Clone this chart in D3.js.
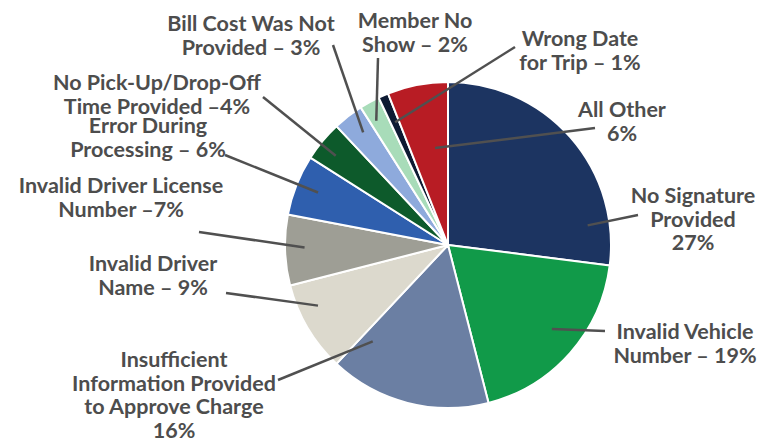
<!DOCTYPE html>
<html>
<head>
<meta charset="utf-8">
<script src="https://cdn.jsdelivr.net/npm/d3@7"></script>
<style>
  html, body { margin: 0; padding: 0; background: #fff; }
  svg { display: block; }
  .lbl { font-family: Lato, "Open Sans", sans-serif; font-weight: 700; font-size: 21.5px; fill: #4d4d4d; }
</style>
</head>
<body>
<div id="chart"></div>
<script>
// slices, clockwise from 12 o'clock
const categories = [
  "No Signature Provided",
  "Invalid Vehicle Number",
  "Insufficient Information Provided to Approve Charge",
  "Invalid Driver Name",
  "Invalid Driver License Number",
  "Error During Processing",
  "No Pick-Up/Drop-Off Time Provided",
  "Bill Cost Was Not Provided",
  "Member No Show",
  "Wrong Date for Trip",
  "All Other"
];
const values = [27, 19, 16, 9, 7, 6, 4, 3, 2, 1, 6];
const colors = [
  "#1c3461", "#119a49", "#6b7fa3", "#dcd9cd", "#9e9e95", "#2f5fae",
  "#0d5a2b", "#8eaadc", "#a8dcb9", "#0e1a33", "#b81c24"
];
// label text as it is broken in the picture
const labelLines = [
  ["No Signature", "Provided", "27%"],
  ["Invalid Vehicle", "Number – 19%"],
  ["Insufficient", "Information Provided", "to Approve Charge", "16%"],
  ["Invalid Driver", "Name – 9%"],
  ["Invalid Driver License", "Number –7%"],
  ["Error During", "Processing – 6%"],
  ["No Pick-Up/Drop-Off", "Time Provided –4%"],
  ["Bill Cost Was Not", "Provided – 3%"],
  ["Member No", "Show – 2%"],
  ["Wrong Date", "for Trip – 1%"],
  ["All Other", "6%"]
];

// layout: label centre x / first baseline, leader start, leader end (deg from top, fraction of r)
const labelLayout = [
  { x: 693, y: 203, sx: 638, sy: 215, a: 82, f: 0.865 },
  { x: 685, y: 339, sx: 605, sy: 331, a: 129, f: 0.82 },
  { x: 174, y: 367, sx: 278, sy: 380, a: 218, f: 0.75 },
  { x: 153, y: 271, sx: 226, sy: 293, a: 245, f: 0.88 },
  { x: 121, y: 193, sx: 199, sy: 232, a: 269, f: 0.88 },
  { x: 148, y: 133, sx: 225, sy: 155, a: 292, f: 0.86 },
  { x: 157, y: 90, sx: 263, sy: 97, a: 308.5, f: 0.88 },
  { x: 251, y: 31, sx: 333, sy: 45, a: 323, f: 0.865 },
  { x: 415, y: 28, sx: 378, sy: 58, a: 330, f: 0.88 },
  { x: 580, y: 46, sx: 515, sy: 47, a: 336.7, f: 0.82 },
  { x: 622, y: 117, sx: 595, sy: 128, a: 352.4, f: 0.6 }
];

const width = 775, height = 443;
const cx = 448, cy = 245, radius = 163;
const lineH = 23.7;

const svg = d3.select("#chart").append("svg")
  .attr("width", width)
  .attr("height", height)
  .attr("viewBox", `0 0 ${width} ${height}`);

const pie = d3.pie().sort(null).value(d => d)(values);
const arc = d3.arc().innerRadius(0).outerRadius(radius);

const g = svg.append("g").attr("transform", `translate(${cx},${cy})`);

g.selectAll("path.slice")
  .data(pie)
  .join("path")
  .attr("class", "slice")
  .attr("d", arc)
  .attr("fill", (d, i) => colors[i])
  .attr("stroke", "#fff")
  .attr("stroke-width", 2)
  .attr("stroke-linejoin", "round");

// leader lines
svg.append("g").selectAll("line")
  .data(labelLayout)
  .join("line")
  .attr("x1", d => d.sx)
  .attr("y1", d => d.sy)
  .attr("x2", d => cx + Math.sin(d.a * Math.PI / 180) * radius * d.f)
  .attr("y2", d => cy - Math.cos(d.a * Math.PI / 180) * radius * d.f)
  .attr("stroke", "#505050")
  .attr("stroke-width", 2.5);

// labels
const labels = svg.append("g").selectAll("text")
  .data(labelLines)
  .join("text")
  .attr("class", "lbl")
  .attr("text-anchor", "middle")
  .attr("x", (d, i) => labelLayout[i].x)
  .attr("y", (d, i) => labelLayout[i].y);

labels.selectAll("tspan")
  .data((d, i) => d.map(t => ({ t, x: labelLayout[i].x })))
  .join("tspan")
  .attr("x", d => d.x)
  .attr("dy", (d, j) => j === 0 ? 0 : lineH)
  .text(d => d.t);
</script>
</body>
</html>
